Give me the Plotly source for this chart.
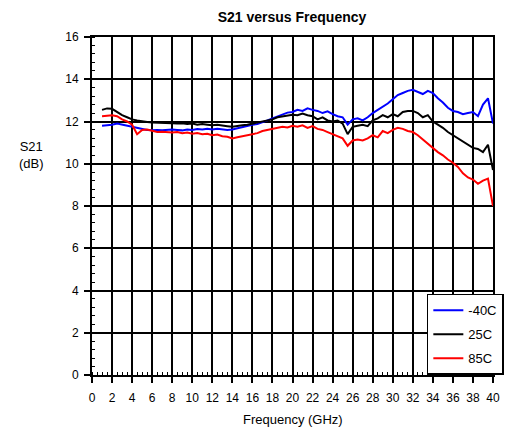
import plotly.graph_objects as go

freq_ghz = [1.0, 1.5, 2.0, 2.5, 3.0, 3.5, 4.0, 4.5, 5.0, 5.5, 6.0, 6.5, 7.0, 7.5, 8.0, 8.5, 9.0, 9.5,
            10.0, 10.5, 11.0, 11.5, 12.0, 12.5, 13.0, 13.5, 14.0, 14.5, 15.0, 15.5, 16.0, 16.5, 17.0, 17.5,
            18.0, 18.5, 19.0, 19.5, 20.0, 20.5, 21.0, 21.5, 22.0, 22.5, 23.0, 23.5, 24.0, 24.5, 25.0, 25.5,
            26.0, 26.5, 27.0, 27.5, 28.0, 28.5, 29.0, 29.5, 30.0, 30.5, 31.0, 31.5, 32.0, 32.5, 33.0, 33.5,
            34.0, 34.5, 35.0, 35.5, 36.0, 36.5, 37.0, 37.5, 38.0, 38.5, 39.0, 39.5, 40.0]

s21_m40c = [11.80, 11.82, 11.85, 11.90, 11.85, 11.78, 11.72, 11.68, 11.62, 11.60, 11.58, 11.60, 11.58, 11.60,
            11.62, 11.60, 11.58, 11.62, 11.60, 11.64, 11.62, 11.66, 11.62, 11.66, 11.64, 11.60, 11.62, 11.68,
            11.75, 11.80, 11.85, 11.88, 11.95, 12.05, 12.15, 12.25, 12.35, 12.42, 12.45, 12.55, 12.50, 12.62,
            12.55, 12.50, 12.40, 12.48, 12.35, 12.25, 12.20, 11.85, 12.10, 12.15, 12.05, 12.20, 12.40, 12.55,
            12.70, 12.85, 13.05, 13.25, 13.35, 13.45, 13.50, 13.40, 13.30, 13.45, 13.35, 13.10, 12.90, 12.65,
            12.50, 12.45, 12.35, 12.40, 12.45, 12.25, 12.80, 13.10, 11.90]

s21_25c = [12.55, 12.62, 12.60, 12.45, 12.30, 12.20, 12.10, 12.05, 12.00, 11.98, 11.95, 11.95, 11.92, 11.95,
           11.92, 11.90, 11.92, 11.88, 11.90, 11.85, 11.88, 11.85, 11.82, 11.85, 11.80, 11.78, 11.75, 11.80,
           11.82, 11.85, 11.90, 11.92, 12.00, 12.05, 12.10, 12.20, 12.25, 12.30, 12.32, 12.30, 12.38, 12.30,
           12.25, 12.10, 12.20, 12.05, 12.00, 12.05, 11.90, 11.40, 11.75, 11.80, 11.85, 11.78, 12.05, 12.15,
           12.30, 12.20, 12.35, 12.25, 12.45, 12.50, 12.50, 12.40, 12.20, 12.30, 12.00, 11.85, 11.70, 11.50,
           11.35, 11.20, 11.05, 10.90, 10.75, 10.70, 10.55, 10.90, 9.70]

s21_85c = [12.25, 12.28, 12.30, 12.25, 12.10, 12.00, 11.85, 11.40, 11.60, 11.62, 11.55, 11.50, 11.52, 11.50,
           11.48, 11.50, 11.45, 11.48, 11.42, 11.45, 11.40, 11.42, 11.35, 11.38, 11.30, 11.28, 11.20, 11.25,
           11.30, 11.35, 11.40, 11.45, 11.55, 11.60, 11.65, 11.70, 11.75, 11.72, 11.80, 11.75, 11.82, 11.70,
           11.78, 11.65, 11.60, 11.50, 11.40, 11.30, 11.20, 10.85, 11.10, 11.15, 11.10, 11.20, 11.35, 11.25,
           11.55, 11.45, 11.60, 11.70, 11.65, 11.55, 11.50, 11.35, 11.15, 10.95, 10.75, 10.55, 10.40, 10.20,
           10.05, 9.85, 9.55, 9.35, 9.25, 9.05, 9.20, 9.30, 8.00]

series_names = ["-40C", "25C", "85C"]
series_colors = ["#0000ff", "#000000", "#ff0000"]

x_ticks = list(range(0, 41, 2))
y_ticks = list(range(0, 17, 2))

FONT = "Liberation Sans"

fig = go.Figure()
for name, ys, col in zip(series_names, [s21_m40c, s21_25c, s21_85c], series_colors):
    fig.add_trace(go.Scatter(x=freq_ghz, y=ys, mode="lines", name=name, legendgroup=name,
                             line=dict(color=col, width=2)))

axis_common = dict(
    showline=True, linecolor="black", linewidth=2, mirror=True,
    showgrid=True, gridcolor="black", gridwidth=2,
    ticks="outside", ticklen=6, tickcolor="black", tickwidth=2,
    zeroline=False, automargin=False,
    tickfont=dict(family=FONT, size=12, color="black"),
)

fig.update_xaxes(range=[0, 40], tickvals=x_ticks, ticktext=[str(v) for v in x_ticks],
                 ticklabelstandoff=5,
                 minor=dict(dtick=0.5, ticks="inside", ticklen=3, tickcolor="black", tickwidth=1, showgrid=False),
                 **axis_common)
fig.update_yaxes(range=[0, 16], tickvals=y_ticks, ticktext=[str(v) for v in y_ticks],
                 ticklabelstandoff=3,
                 minor=dict(dtick=0.4, ticks="inside", ticklen=3, tickcolor="black", tickwidth=1, showgrid=False),
                 **axis_common)

fig.add_annotation(text="Frequency (GHz)", xref="paper", yref="paper", x=0.5, y=-0.133,
                   showarrow=False, xanchor="center", yanchor="middle",
                   font=dict(family=FONT, size=13, color="black"))
fig.add_annotation(text="S21<br>(dB)", xref="paper", yref="paper", x=-0.15, y=0.65,
                   showarrow=False, align="center", xanchor="center", yanchor="middle",
                   font=dict(family=FONT, size=13, color="black"))

fig.update_layout(
    width=523, height=420,
    margin=dict(l=84, r=38, t=29, b=53),
    paper_bgcolor="white", plot_bgcolor="white",
    title=dict(text="<b>S21 versus Frequency</b>", x=0.543, xanchor="center", y=0.978, yanchor="middle",
               font=dict(family=FONT, size=14, color="black")),
    showlegend=True,
    legend=dict(x=0.835, y=0.24, xanchor="left", yanchor="top",
                bgcolor="white", bordercolor="black", borderwidth=1.5,
                font=dict(family=FONT, size=13, color="black"),
                traceorder="grouped",
                itemwidth=30, tracegroupgap=4),
)

fig.write_html("out.html")
